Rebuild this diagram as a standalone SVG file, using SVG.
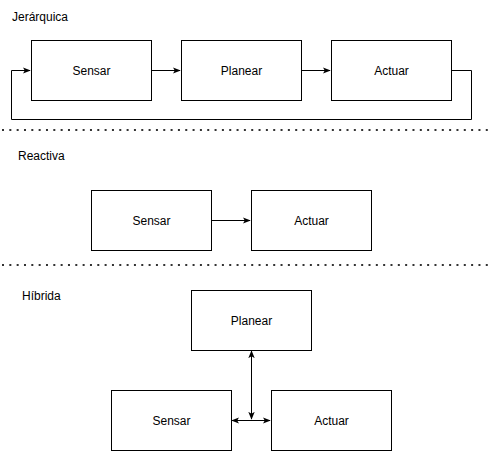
<svg xmlns="http://www.w3.org/2000/svg" width="493" height="451" viewBox="0 0 493 451">
<style>
.box{fill:#fff;stroke:#000;stroke-width:1}
.t{font-family:"Liberation Sans",Arial,sans-serif;font-size:12px;fill:#000}
.c{text-anchor:middle;dominant-baseline:central}
.e{fill:none;stroke:#000;stroke-width:1}
.dot{fill:none;stroke:#333;stroke-width:2;stroke-dasharray:2 5.33}
</style>
<defs>
<marker id="ah" viewBox="0 0 10 10" refX="9" refY="5" markerWidth="8" markerHeight="8" orient="auto-start-reverse" markerUnits="userSpaceOnUse">
<path d="M0,1 L10,5 L0,9 L2.5,5 Z" fill="#000"/>
</marker>
</defs>
<rect width="493" height="451" fill="#fff"/>
<text class="t" x="12" y="21">Jerárquica</text>
<text class="t" x="18" y="160">Reactiva</text>
<text class="t" x="22" y="300">Híbrida</text>
<g id="separators">
<line class="dot" x1="2" y1="130" x2="493" y2="130"/>
<line class="dot" x1="2" y1="265" x2="493" y2="265"/>
</g>
<g id="connectors">
<path class="e" d="M151,70.5 H180" marker-end="url(#ah)"/>
<path class="e" d="M301,70.5 H330" marker-end="url(#ah)"/>
<path class="e" d="M451,70.5 H471.5 V119.5 H11.5 V70.5 H30" marker-end="url(#ah)"/>
<path class="e" d="M211,220.5 H250" marker-end="url(#ah)"/>
<path class="e" d="M251.5,351 V419" marker-start="url(#ah)" marker-end="url(#ah)"/>
<path class="e" d="M232,420.5 H270" marker-start="url(#ah)" marker-end="url(#ah)"/>
</g>
<g id="j-sensar"><rect class="box" x="31.5" y="40.5" width="120" height="60"/><text class="t c" x="91.5" y="70.5">Sensar</text></g>
<g id="j-planear"><rect class="box" x="181.5" y="40.5" width="120" height="60"/><text class="t c" x="241.5" y="70.5">Planear</text></g>
<g id="j-actuar"><rect class="box" x="331.5" y="40.5" width="120" height="60"/><text class="t c" x="391.5" y="70.5">Actuar</text></g>
<g id="r-sensar"><rect class="box" x="91.5" y="190.5" width="120" height="60"/><text class="t c" x="151.5" y="220.5">Sensar</text></g>
<g id="r-actuar"><rect class="box" x="251.5" y="190.5" width="120" height="60"/><text class="t c" x="311.5" y="220.5">Actuar</text></g>
<g id="h-planear"><rect class="box" x="191.5" y="290.5" width="120" height="60"/><text class="t c" x="251.5" y="320.5">Planear</text></g>
<g id="h-sensar"><rect class="box" x="111.5" y="390.5" width="120" height="60"/><text class="t c" x="171.5" y="420.5">Sensar</text></g>
<g id="h-actuar"><rect class="box" x="271.5" y="390.5" width="120" height="60"/><text class="t c" x="331.5" y="420.5">Actuar</text></g>
</svg>
